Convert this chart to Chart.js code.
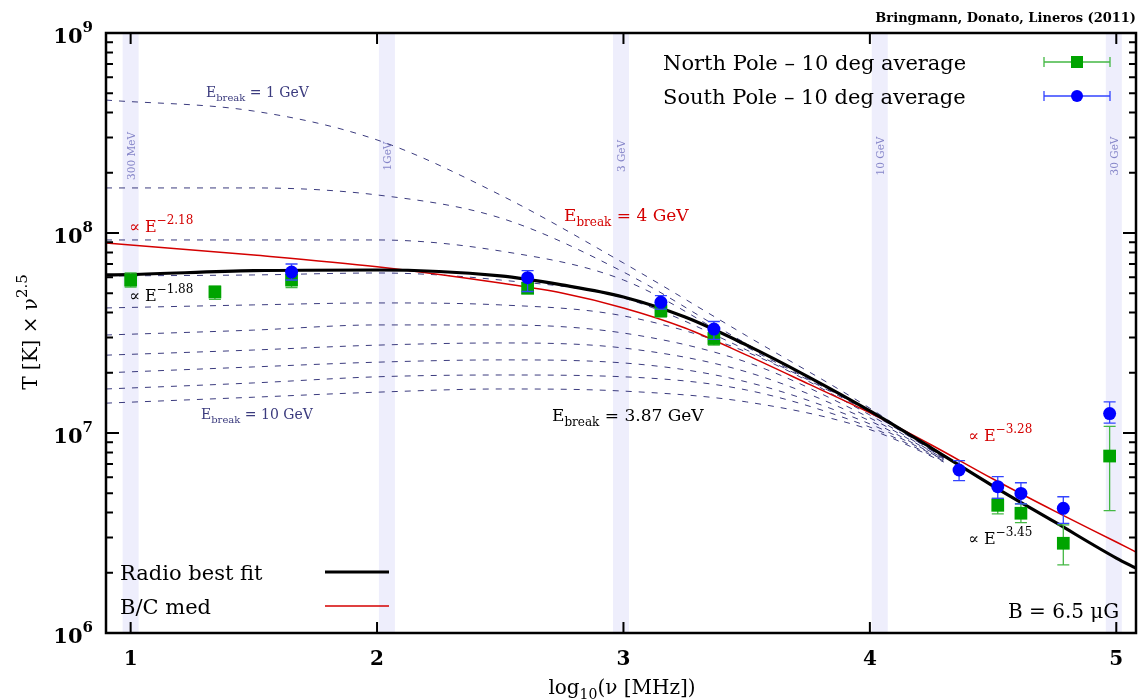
<!DOCTYPE html>
<html>
<head>
<meta charset="utf-8">
<script src="https://cdn.jsdelivr.net/npm/chart.js@4.4.0/dist/chart.umd.min.js"></script>
<style>
  html, body { margin: 0; padding: 0; background: #fff; }
</style>
</head>
<body>
<canvas id="c" width="1138" height="700"></canvas>
<script>
// log10(nu [MHz]) positions of the survey / WMAP bands
const northX = [1.0, 1.342, 1.653, 2.611, 3.152, 3.367, 4.519, 4.613, 4.785, 4.973];
const northY = [5.82e7, 5.07e7, 5.82e7, 5.29e7, 4.09e7, 2.97e7, 4.35e6, 3.97e6, 2.81e6, 7.67e6];
const northLo = [5.37e7, 4.66e7, 5.34e7, 4.99e7, 3.8e7, 2.75e7, 3.94e6, 3.56e6, 2.19e6, 4.09e6];
const northHi = [6.31e7, 5.43e7, 6.17e7, 5.63e7, 4.31e7, 3.1e7, 4.71e6, 4.42e6, 3.47e6, 1.08e7];

const southX = [1.653, 2.611, 3.152, 3.367, 4.362, 4.519, 4.613, 4.785, 4.973];
const southY = [6.38e7, 5.98e7, 4.5e7, 3.31e7, 6.53e6, 5.39e6, 4.99e6, 4.2e6, 1.25e7];
const southLo = [5.82e7, 5.1e7, 4.16e7, 2.94e7, 5.78e6, 4.71e6, 4.42e6, 3.53e6, 1.12e7];
const southHi = [7.0e7, 6.48e7, 4.86e7, 3.61e7, 7.27e6, 6.05e6, 5.64e6, 4.8e6, 1.43e7];

// radio best fit (E_break = 3.87 GeV)
const fitX = [0.9, 1.0, 1.5, 2.0, 2.5, 2.75, 3.0, 3.25, 3.5, 3.75, 4.0, 4.25, 4.5, 4.75, 5.0, 5.08];
const fitY = [6.17e7, 6.2e7, 6.48e7, 6.53e7, 6.1e7, 5.5e7, 4.79e7, 3.8e7, 2.75e7, 1.91e7, 1.29e7, 8.41e6, 5.43e6, 3.59e6, 2.37e6, 2.11e6];

// B/C med (E_break = 4 GeV)
const bcX = [0.9, 1.5, 2.0, 2.5, 2.75, 3.0, 3.25, 3.5, 3.75, 4.0, 4.25, 4.5, 4.75, 5.0, 5.08];
const bcY = [8.91e7, 7.76e7, 6.78e7, 5.62e7, 5.01e7, 4.22e7, 3.35e7, 2.45e7, 1.76e7, 1.26e7, 8.71e6, 5.89e6, 4.07e6, 2.85e6, 2.54e6];

// dashed family, E_break = 1 ... 10 GeV
const breakX = [0.9, 1.5, 2.0, 2.5, 3.0, 3.5, 4.0, 4.3];
const break1 = [4.62e8, 4.07e8, 2.92e8, 1.55e8, 7.08e7, 3.06e7, 1.33e7, 7.5e6];
const break2 = [1.68e8, 1.68e8, 1.55e8, 1.19e8, 6.38e7, 2.79e7, 1.29e7, 7.5e6];
const break3 = [9.23e7, 9.23e7, 9.23e7, 8.13e7, 5.82e7, 2.69e7, 1.27e7, 7.5e6];
const break4 = [6.1e7, 6.17e7, 6.31e7, 5.82e7, 4.73e7, 2.6e7, 1.26e7, 7.5e6];
const break5 = [4.22e7, 4.37e7, 4.47e7, 4.37e7, 3.85e7, 2.54e7, 1.23e7, 7.41e6];
const break6 = [3.09e7, 3.27e7, 3.47e7, 3.47e7, 3.16e7, 2.26e7, 1.19e7, 7.41e6];
const break7 = [2.45e7, 2.6e7, 2.75e7, 2.82e7, 2.66e7, 2.02e7, 1.15e7, 7.33e6];
const break8 = [2.0e7, 2.14e7, 2.26e7, 2.32e7, 2.24e7, 1.8e7, 1.11e7, 7.33e6];
const break9 = [1.66e7, 1.78e7, 1.91e7, 1.95e7, 1.91e7, 1.64e7, 1.07e7, 7.24e6];
const break10 = [1.41e7, 1.51e7, 1.6e7, 1.66e7, 1.62e7, 1.43e7, 1.04e7, 7.16e6];

// energy bands
const bandX = [1.0, 2.04, 2.99, 4.04, 4.99];
const bandLabels = ['300 MeV', '1GeV', '3 GeV', '10 GeV', '30 GeV'];

const xTicks = [1, 2, 3, 4, 5];
const yDecades = [6, 7, 8, 9];

const SERIF = '"DejaVu Serif", "Liberation Serif", serif';
const NAVY = '#3b3b7e';
const RED = '#d40000';

const pts = (xs, ys) => xs.map((x, i) => ({ x: x, y: ys[i] }));

// draw text made of pieces (sub/superscripts)
function rich(ctx, parts, x, y, align) {
  let w = 0;
  parts.forEach(p => { ctx.font = p[1]; w += ctx.measureText(p[0]).width; });
  let cx = align === 'right' ? x - w : align === 'center' ? x - w / 2 : x;
  ctx.textAlign = 'left';
  ctx.textBaseline = 'alphabetic';
  parts.forEach(p => {
    ctx.font = p[1];
    ctx.fillText(p[0], cx, y + (p[2] || 0));
    cx += ctx.measureText(p[0]).width;
  });
}

const overlay = {
  id: 'overlay',
  beforeDatasetsDraw(chart) {
    const { ctx, chartArea: a, scales: { x } } = chart;
    ctx.save();
    bandX.forEach((bx, i) => {
      const px = x.getPixelForValue(bx);
      ctx.fillStyle = '#eeeefc';
      ctx.fillRect(px - 8, a.top, 16, a.bottom - a.top);
      ctx.save();
      ctx.translate(px + 4, 156);
      ctx.rotate(-Math.PI / 2);
      ctx.fillStyle = '#8585c8';
      ctx.font = '10.5px ' + SERIF;
      ctx.textAlign = 'center';
      ctx.fillText(bandLabels[i], 0, 0);
      ctx.restore();
    });
    ctx.restore();
  },
  beforeDatasetDraw(chart, args) {
    const ds = chart.data.datasets[args.index];
    if (!ds.errLo) return;
    const { ctx, scales: { x, y } } = chart;
    ctx.save();
    ctx.strokeStyle = ds.errColor;
    ctx.lineWidth = 1.3;
    ds.data.forEach((p, i) => {
      const px = x.getPixelForValue(p.x);
      const lo = y.getPixelForValue(ds.errLo[i]);
      const hi = y.getPixelForValue(ds.errHi[i]);
      ctx.beginPath();
      ctx.moveTo(px, lo); ctx.lineTo(px, hi);
      ctx.moveTo(px - 6, lo); ctx.lineTo(px + 6, lo);
      ctx.moveTo(px - 6, hi); ctx.lineTo(px + 6, hi);
      ctx.stroke();
    });
    ctx.restore();
  },
  afterDatasetsDraw(chart) {
    const { ctx, chartArea: a, scales: { x, y } } = chart;
    ctx.save();
    ctx.strokeStyle = '#000';
    ctx.fillStyle = '#000';

    // ticks, inward on all four sides
    ctx.lineWidth = 2;
    ctx.beginPath();
    xTicks.forEach(t => {
      const px = x.getPixelForValue(t);
      ctx.moveTo(px, a.bottom); ctx.lineTo(px, a.bottom - 11);
      ctx.moveTo(px, a.top); ctx.lineTo(px, a.top + 11);
    });
    yDecades.forEach(d => {
      const py = y.getPixelForValue(Math.pow(10, d));
      ctx.moveTo(a.left, py); ctx.lineTo(a.left + 13, py);
      ctx.moveTo(a.right, py); ctx.lineTo(a.right - 13, py);
      if (d < 9) {
        for (let k = 2; k <= 9; k++) {
          const pm = y.getPixelForValue(k * Math.pow(10, d));
          ctx.moveTo(a.left, pm); ctx.lineTo(a.left + 7, pm);
          ctx.moveTo(a.right, pm); ctx.lineTo(a.right - 7, pm);
        }
      }
    });
    ctx.stroke();

    // frame
    ctx.lineWidth = 2.5;
    ctx.strokeRect(a.left, a.top, a.right - a.left, a.bottom - a.top);

    // tick labels
    ctx.textAlign = 'center';
    ctx.font = 'bold 20px ' + SERIF;
    xTicks.forEach(t => ctx.fillText(String(t), x.getPixelForValue(t), 665));
    yDecades.forEach(d => {
      const py = y.getPixelForValue(Math.pow(10, d));
      rich(ctx, [['10', 'bold 21px ' + SERIF, 0], [String(d), 'bold 15px ' + SERIF, -11]], 93, py + 10, 'right');
    });

    // axis titles
    rich(ctx, [['log', '20px ' + SERIF, 0], ['10', '14px ' + SERIF, 5], ['(ν [MHz])', '20px ' + SERIF, 0]], 622, 694, 'center');
    ctx.save();
    ctx.translate(37, 332);
    ctx.rotate(-Math.PI / 2);
    rich(ctx, [['T [K] × ν', '20px ' + SERIF, 0], ['2.5', '15px ' + SERIF, -10]], 0, 0, 'center');
    ctx.restore();

    // credit
    ctx.font = 'bold 13px ' + SERIF;
    ctx.textAlign = 'right';
    ctx.fillText('Bringmann, Donato, Lineros (2011)', 1136, 22);

    // annotations
    ctx.fillStyle = NAVY;
    rich(ctx, [['E', '14px ' + SERIF, 0], ['break', '10px ' + SERIF, 4], [' = 1 GeV', '14px ' + SERIF, 0]], 206, 97, 'left');
    rich(ctx, [['E', '14px ' + SERIF, 0], ['break', '10px ' + SERIF, 4], [' = 10 GeV', '14px ' + SERIF, 0]], 201, 419, 'left');
    ctx.fillStyle = RED;
    rich(ctx, [['∝ E', '16px ' + SERIF, 0], ['−2.18', '12px ' + SERIF, -8]], 129, 232, 'left');
    rich(ctx, [['E', '17px ' + SERIF, 0], ['break', '12px ' + SERIF, 5], [' = 4 GeV', '17px ' + SERIF, 0]], 564, 221, 'left');
    rich(ctx, [['∝ E', '16px ' + SERIF, 0], ['−3.28', '12px ' + SERIF, -8]], 968, 441, 'left');
    ctx.fillStyle = '#000';
    rich(ctx, [['∝ E', '16px ' + SERIF, 0], ['−1.88', '12px ' + SERIF, -8]], 129, 301, 'left');
    rich(ctx, [['E', '17px ' + SERIF, 0], ['break', '12px ' + SERIF, 5], [' = 3.87 GeV', '17px ' + SERIF, 0]], 552, 421, 'left');
    rich(ctx, [['∝ E', '16px ' + SERIF, 0], ['−3.45', '12px ' + SERIF, -8]], 968, 544, 'left');
    rich(ctx, [['B = 6.5 μG', '20px ' + SERIF, 0]], 1008, 618, 'left');

    // lower-left legend
    ctx.font = '21px ' + SERIF;
    ctx.textAlign = 'left';
    ctx.fillText('Radio best fit', 120, 580);
    ctx.fillText('B/C med', 120, 614);
    ctx.lineWidth = 3;
    ctx.beginPath(); ctx.moveTo(325, 572); ctx.lineTo(389, 572); ctx.stroke();
    ctx.strokeStyle = RED;
    ctx.lineWidth = 1.5;
    ctx.beginPath(); ctx.moveTo(325, 606); ctx.lineTo(389, 606); ctx.stroke();

    // upper-right legend
    ctx.fillStyle = '#000';
    ctx.fillText('North Pole – 10 deg average', 663, 70);
    ctx.fillText('South Pole – 10 deg average', 663, 104);
    [[62, '#44b844', '#00a400', 'rect'], [96, '#3344ff', '#0000ff', 'circle']].forEach(r => {
      ctx.strokeStyle = r[1];
      ctx.lineWidth = 1.3;
      ctx.beginPath();
      ctx.moveTo(1044, r[0]); ctx.lineTo(1110, r[0]);
      ctx.moveTo(1044, r[0] - 5); ctx.lineTo(1044, r[0] + 5);
      ctx.moveTo(1110, r[0] - 5); ctx.lineTo(1110, r[0] + 5);
      ctx.stroke();
      ctx.fillStyle = r[2];
      if (r[3] === 'rect') ctx.fillRect(1071, r[0] - 6, 12, 12);
      else { ctx.beginPath(); ctx.arc(1077, r[0], 6, 0, Math.PI * 2); ctx.fill(); }
    });
    ctx.restore();
  }
};

const dashed = [break1, break2, break3, break4, break5, break6, break7, break8, break9, break10].map(ys => ({
  data: pts(breakX, ys),
  borderColor: NAVY,
  borderWidth: 1,
  borderDash: [6, 7],
  pointRadius: 0,
  cubicInterpolationMode: 'monotone',
  order: 10
}));

new Chart(document.getElementById('c'), {
  type: 'line',
  data: {
    datasets: [
      {
        label: 'South Pole – 10 deg average', data: pts(southX, southY), showLine: false,
        pointStyle: 'circle', pointRadius: 6.5, backgroundColor: '#0000ff', borderWidth: 0,
        errLo: southLo, errHi: southHi, errColor: '#3344ff', order: 0
      },
      {
        label: 'North Pole – 10 deg average', data: pts(northX, northY), showLine: false,
        pointStyle: 'rect', pointRadius: 9, backgroundColor: '#00a400', borderWidth: 0,
        errLo: northLo, errHi: northHi, errColor: '#44b844', order: 1
      },
      {
        label: 'Radio best fit', data: pts(fitX, fitY), borderColor: '#000', borderWidth: 3.2,
        pointRadius: 0, cubicInterpolationMode: 'monotone', order: 3
      },
      {
        label: 'B/C med', data: pts(bcX, bcY), borderColor: RED, borderWidth: 1.5,
        pointRadius: 0, cubicInterpolationMode: 'monotone', order: 4
      },
      ...dashed
    ]
  },
  options: {
    responsive: false,
    animation: false,
    layout: { autoPadding: false, padding: { left: 106, right: 2, top: 33, bottom: 67 } },
    plugins: { legend: { display: false }, tooltip: { enabled: false } },
    scales: {
      x: { type: 'linear', min: 0.9, max: 5.08, display: false },
      y: { type: 'logarithmic', min: 1e6, max: 1e9, display: false }
    }
  },
  plugins: [overlay]
});
</script>
</body>
</html>
